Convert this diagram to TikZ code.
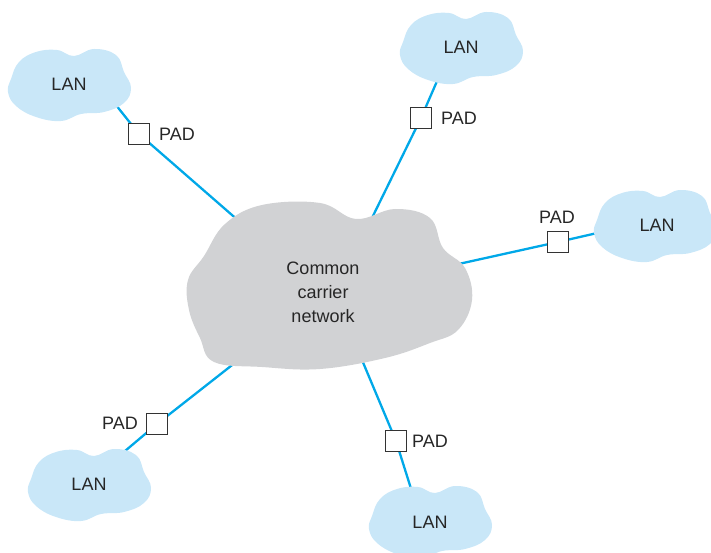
\documentclass[tikz,border=0pt]{standalone}
\usepackage{fontspec}
\setmainfont{Liberation Sans}
\definecolor{lanblue}{HTML}{C9E7F8}
\definecolor{coregray}{HTML}{D1D2D4}
\definecolor{linkblue}{HTML}{00A8E8}
\definecolor{boxgray}{HTML}{333333}
\tikzset{
  link/.style={draw=linkblue, line width=2.3pt},
  padbox/.style={draw=boxgray, fill=white, line width=1.2pt, minimum size=21pt, inner sep=0pt},
  lbl/.style={font=\fontsize{18}{21}\selectfont, text=black!85, inner sep=0pt},
  lanfill/.style={fill=lanblue, draw=none},
  pics/lancloud/.style={code={
    \path[lanfill] plot[smooth cycle, tension=0.7] coordinates {
      (-58,-5) (-50,-22) (-33,-32) (-12,-34) (5,-28) (25,-35) (47,-29) (55,-12)
      (62,4) (55,19) (35,28) (12,30) (-8,37) (-33,33) (-53,22) (-61,8)};
  }}
}
\begin{document}
\begin{tikzpicture}[x=1pt,y=-1pt]
\useasboundingbox (0,0) rectangle (711,553);
% attachment coordinates
\coordinate (a1) at (104,90);
\coordinate (c1) at (240,222);
\coordinate (a2) at (441,72);
\coordinate (c2) at (370,222);
\coordinate (a3) at (606,231);
\coordinate (c3) at (445,267);
\coordinate (a4) at (112,462);
\coordinate (c4) at (236,362);
\coordinate (a5) at (413,495);
\coordinate (c5) at (362,360);
% PAD boxes (positions)
\node[padbox] (pad1) at (139,134) {};
\node[padbox] (pad2) at (421,118) {};
\node[padbox] (pad3) at (558,242) {};
\node[padbox] (pad4) at (157,424) {};
\node[padbox] (pad5) at (396,441) {};
% links
\draw[link] (a1) -- (pad1.center) -- (c1);
\draw[link] (a2) -- (pad2.center) -- (c2);
\draw[link] (a3) -- (pad3.center) -- (c3);
\draw[link] (a4) -- (pad4.center) -- (c4);
\draw[link] (a5) -- (pad5.center) -- (c5);
% central cloud
\path[fill=coregray] plot[smooth cycle, tension=0.65] coordinates {
  (225,224) (262,205) (320,203) (356,219) (395,209) (430,218) (443,248)
  (465,268) (472,300) (458,330) (430,343) (385,358) (320,369) (262,367)
  (214,362) (200,338) (189,310) (188,280) (204,256)};
\node[lbl, align=center] (core) at (323,292) {Common\\[3pt]carrier\\[3pt]network};
% LAN clouds
\pic at (69,84) {lancloud};
\pic at (461,47) {lancloud};
\pic at (655,225) {lancloud};
\pic at (89,484) {lancloud};
\pic at (430,521) {lancloud};
\node[lbl] (lan1) at (69,84) {LAN};
\node[lbl] (lan2) at (461,47) {LAN};
\node[lbl] (lan3) at (657,225) {LAN};
\node[lbl] (lan4) at (89,484) {LAN};
\node[lbl] (lan5) at (430,522) {LAN};
% PAD boxes drawn on top
\node[padbox] at (pad1) {};
\node[padbox] at (pad2) {};
\node[padbox] at (pad3) {};
\node[padbox] at (pad4) {};
\node[padbox] at (pad5) {};
% PAD labels
\node[lbl, anchor=west] (p1) at (159,134) {PAD};
\node[lbl, anchor=west] (p2) at (441,118) {PAD};
\node[lbl] (p3) at (557,217) {PAD};
\node[lbl, anchor=east] (p4) at (138,423) {PAD};
\node[lbl, anchor=west] (p5) at (412,441) {PAD};
\end{tikzpicture}
\end{document}
